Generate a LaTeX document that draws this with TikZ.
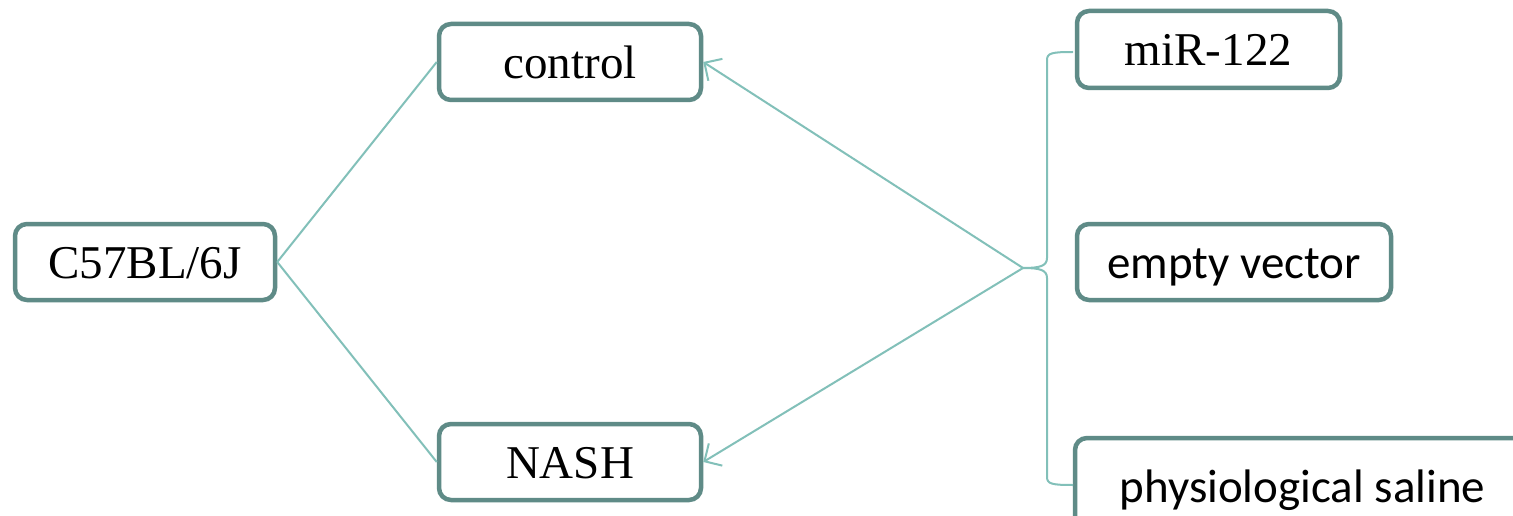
\documentclass[tikz,border=0pt]{standalone}
\usepackage{fontspec}
\setmainfont{Liberation Serif}
\newfontfamily\calfont{Carlito}
\usetikzlibrary{arrows.meta}
\definecolor{boxline}{HTML}{5F8B87}
\definecolor{connline}{HTML}{82C0B9}
\tikzset{
  box/.style={draw=boxline, line width=4.5pt, rounded corners=12pt, fill=white,
    inner sep=0pt, text height=33pt, text depth=0pt,
    font=\fontsize{47}{56}\selectfont},
  sbox/.style={box, font=\calfont\fontsize{47}{56}\selectfont},
  conn/.style={draw=connline, line width=2pt},
  arr/.style={conn, -{Straight Barb[length=13pt,width=26pt,line width=2pt]}}
}
\begin{document}
\begin{tikzpicture}[x=1pt,y=-1pt]
\useasboundingbox (0,0) rectangle (1513,516);
\clip (0,0) rectangle (1513,516);
\fill[white] (0,0) rectangle (1513,516);
\node[box, minimum width=260pt, minimum height=76pt] (c57) at (145,262) {C57BL/6J};
\node[box, minimum width=262pt, minimum height=76pt] (control) at (570,62) {control};
\node[box, minimum width=262pt, minimum height=76pt] (nash) at (570,462) {NASH};
\node[box, minimum width=263pt, minimum height=77pt] (mir) at (1208.5,49.5) {miR-122};
\node[sbox, minimum width=314pt, minimum height=76pt] (empty) at (1234,262) {empty vector};
\node[sbox, minimum width=455pt, minimum height=95pt] (saline) at (1302.5,485.5) {physiological saline};
\coordinate (nose) at (1023,268);
\draw[conn] (c57.east) -- (control.west);
\draw[conn] (c57.east) -- (nash.west);
\draw[arr] (nose) -- (control.east);
\draw[arr] (nose) -- (nash.east);
\draw[conn] (1073,52) .. controls (1052,52) and (1047,53) .. (1047,60) -- (1047,258)
  .. controls (1047,266) and (1040,268) .. (nose)
  .. controls (1040,268) and (1047,270) .. (1047,278) -- (1047,477)
  .. controls (1047,484) and (1052,485) .. (1073,485);
\end{tikzpicture}
\end{document}
